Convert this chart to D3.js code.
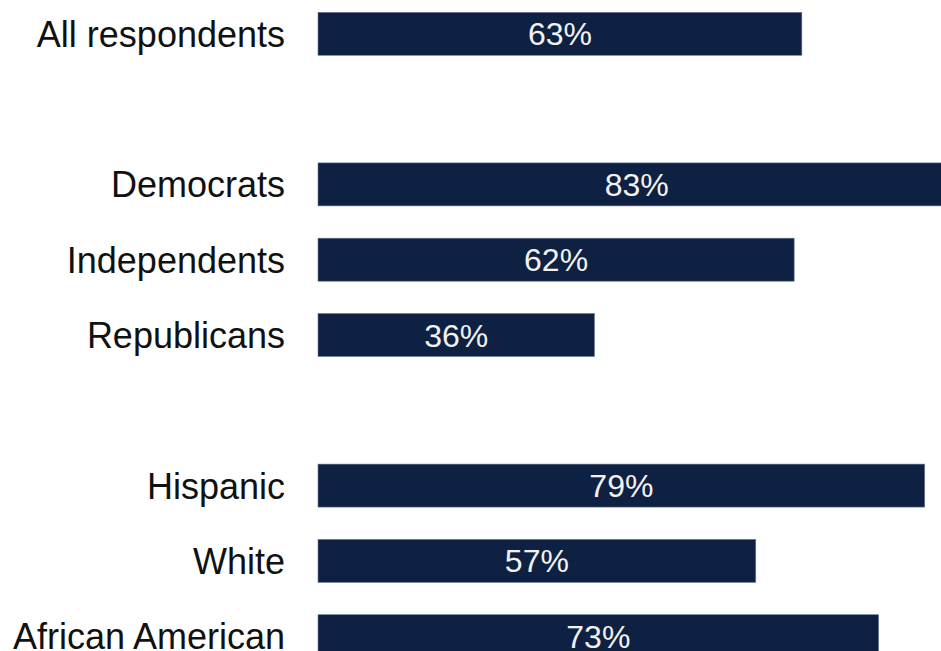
<!DOCTYPE html>
<html>
<head>
<meta charset="utf-8">
<script src="https://cdn.jsdelivr.net/npm/d3@7"></script>
<style>
  html, body { margin: 0; padding: 0; background: #ffffff; overflow: hidden; }
  svg { display: block; }
</style>
</head>
<body>
<svg id="chart" width="941" height="651"></svg>
<script>
// Share of respondents, by group (percent)
const categories = [
  "All respondents",
  "",
  "Democrats",
  "Independents",
  "Republicans",
  " ",
  "Hispanic",
  "White",
  "African American"
];
const values = [63, null, 83, 62, 36, null, 79, 57, 73];
const valueLabels = ["63%", null, "83%", "62%", "36%", null, "79%", "57%", "73%"];

const rows = categories.map((c, i) => ({ category: c, value: values[i], label: valueLabels[i] }));

const svg = d3.select("#chart");
const left = 318;
const step = 75.3;
const barH = 43;
const pad = (step - barH) / step;

const x = d3.scaleLinear().domain([0, 100]).range([left, left + 768]);
const y = d3.scaleBand()
  .domain(categories)
  .range([0, step * (categories.length - pad)])
  .paddingInner(pad)
  .paddingOuter(0)
  .align(0);

const g = svg.append("g").attr("transform", "translate(0,12.3)");

const barRows = rows.filter(d => d.value != null);

g.selectAll("rect.bar")
  .data(barRows)
  .join("rect")
  .attr("class", "bar")
  .attr("x", x(0))
  .attr("y", d => y(d.category))
  .attr("width", d => x(d.value) - x(0))
  .attr("height", y.bandwidth())
  .attr("fill", "#0e2142")
  .attr("stroke", "#6b7a94")
  .attr("stroke-width", 0.6);

// Category labels, right-aligned against the bars
g.selectAll("text.cat")
  .data(barRows)
  .join("text")
  .attr("class", "cat")
  .attr("x", 285)
  .attr("y", d => y(d.category) + y.bandwidth() / 2)
  .attr("dy", "0.36em")
  .attr("text-anchor", "end")
  .attr("font-family", "'Liberation Sans', Arial, sans-serif")
  .attr("font-size", 36)
  .attr("fill", "#111111")
  .text(d => d.category);

// Value labels centred in each bar
g.selectAll("text.val")
  .data(barRows)
  .join("text")
  .attr("class", "val")
  .attr("x", d => (x(0) + x(d.value)) / 2)
  .attr("y", d => y(d.category) + y.bandwidth() / 2)
  .attr("dy", "0.36em")
  .attr("text-anchor", "middle")
  .attr("font-family", "'Liberation Sans', Arial, sans-serif")
  .attr("font-size", 32)
  .attr("fill", "#f2f2f2")
  .text(d => d.label);
</script>
</body>
</html>
